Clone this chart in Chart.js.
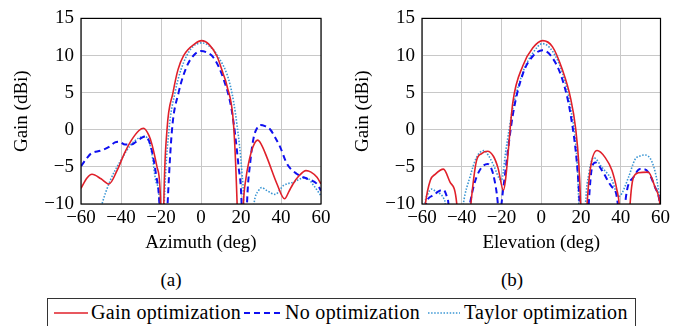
<!DOCTYPE html>
<html>
<head>
<meta charset="utf-8">
<script src="https://cdn.jsdelivr.net/npm/chart.js@4.4.1/dist/chart.umd.min.js"></script>
<style>
  html, body { margin: 0; padding: 0; background: #fff; }
  body { width: 673px; height: 326px; position: relative; overflow: hidden; font-family: 'Liberation Serif', 'Times New Roman', serif; }
  #c1 { position: absolute; left: 0; top: 0; }
  #c2 { position: absolute; left: 336px; top: 0; }
  .cap { position: absolute; top: 269px; font-size: 19px; width: 60px; text-align: center; }
  #legend { position: absolute; left: 47px; top: 298px; width: 589px; height: 40px; border: 1px solid #333; box-sizing: border-box; }
  .lt { position: absolute; top: 2px; font-size: 20px; letter-spacing: 0.3px; white-space: nowrap; }
  .ls { position: absolute; top: 10px; }
</style>
</head>
<body>
<canvas id="c1" width="336" height="260"></canvas>
<canvas id="c2" width="337" height="260"></canvas>
<div class="cap" style="left:141px">(a)</div>
<div class="cap" style="left:482px">(b)</div>
<div id="legend">
  <svg class="ls" style="left:6px" width="34" height="8"><line x1="0" y1="4" x2="34" y2="4" stroke="#e0202a" stroke-width="1.6"/></svg>
  <div class="lt" style="left:43px">Gain optimization</div>
  <svg class="ls" style="left:196px" width="38" height="8"><line x1="0" y1="4" x2="38" y2="4" stroke="#1010f0" stroke-width="2" stroke-dasharray="6 4"/></svg>
  <div class="lt" style="left:237px">No optimization</div>
  <svg class="ls" style="left:380px" width="32" height="8"><line x1="0" y1="4" x2="32" y2="4" stroke="#3a96d4" stroke-width="1.6" stroke-dasharray="1.5 1.6"/></svg>
  <div class="lt" style="left:416px">Taylor optimization</div>
</div>
<script>
// Ejes
const xTicks = [-60, -40, -20, 0, 20, 40, 60];
const yTicks = [-10, -5, 0, 5, 10, 15];

// (a) Azimut
const azGainX = [-60, -57, -54.5, -50, -46, -42, -38, -35, -31, -28.7, -26, -24.5, -22, -20.3, -19.3, -18.6, -17, -14, -11.5, -8.7, -3, 0.3, 4, 8, 11, 13, 16.3, 18, 19.5, 21.2, 22.5, 23.8, 26, 28.3, 30, 33, 38, 41.8, 44, 46, 49, 52.5, 55, 58, 60];
const azGainY = [-7.9, -6.5, -6.0, -6.6, -7.3, -5.5, -3.0, -1.5, -0.1, 0.2, -0.8, -2.0, -5, -9, -25, -10, 0, 5, 8.1, 10, 11.6, 12.0, 11.5, 9.9, 7.6, 5.9, 0.6, -9.5, -25, -10, -6.5, -4.5, -2.3, -1.4, -1.9, -3.75, -7.3, -9.3, -8.3, -7.3, -6.2, -5.5, -5.7, -6.4, -7.3];
const azNoX = [-60, -57, -55, -50, -46, -43, -41, -38, -35, -31, -28, -26, -24.5, -22.5, -20.8, -19, -16.7, -14.5, -11.2, -7, -3, 0, 3, 6.3, 11.3, 15.5, 18.8, 20.3, 21.5, 23, 24.7, 26.3, 28, 29.7, 32, 34.7, 37, 39.7, 43, 48, 53, 58, 60];
const azNoY = [-4.9, -3.8, -3.2, -2.8, -2.3, -1.7, -1.6, -2.0, -2.0, -1.3, -0.9, -1.5, -2.9, -6, -10, -25, -10, 0, 5, 8.6, 10.2, 10.6, 10.4, 9.7, 6.8, 2.4, -5, -10, -25, -10, -4.2, -1.1, 0.2, 0.65, 0.5, 0, -1, -2.4, -4.6, -5.95, -6.6, -7.3, -8.2];
const azTaylorX = [-53, -49.5, -45.3, -40.3, -35, -31, -28, -26, -24.5, -22.5, -20.7, -19.8, -18.4, -16, -13, -10, -5.3, 0.5, 4, 8, 14.7, 18, 20.5, 21.3, 22, 26.5, 28.8, 30.3, 33, 37, 41.3, 46.3, 51.3, 53, 56.3, 60];
const azTaylorY = [-14, -10, -6.8, -4.2, -2.0, -1.1, -0.9, -1.6, -3.3, -7, -10, -25, -10, 0, 5, 8.1, 10.8, 11.7, 11.3, 10.1, 5.9, 0.65, -5.95, -10, -25, -10, -8.2, -7.8, -8.2, -8.7, -7.5, -7.05, -6.5, -6.5, -7.5, -8.9];

// (b) Elevación
const elGainX = [-59, -58.3, -55.8, -53.4, -49.2, -45.9, -42.5, -40, -35.4, -32.6, -30, -27, -24, -21.8, -19, -18, -14.3, -9.3, -4.3, 0.7, 5.6, 10.6, 14.8, 17.3, 18.9, 19.8, 21, 23.1, 24.8, 28.1, 32.2, 35.6, 38.1, 39.2, 42, 44.7, 46.4, 48.9, 53.8, 57.2, 59.7, 60];
const elGainY = [-12, -10, -6.8, -6.0, -5.3, -7.05, -10, -25, -10, -4.2, -3.2, -2.9, -3.6, -5.1, -8.15, -6.8, 3.7, 8.6, 11.0, 12.0, 11.2, 8.1, 4.2, 0.2, -4.6, -10, -25, -10, -5.1, -2.8, -3.75, -5.5, -8.15, -10, -25, -10, -6.4, -5.8, -5.7, -7.7, -10, -11];
const elNoX = [-59, -58, -54.2, -51, -49.2, -47.5, -46.7, -44, -35.9, -32.6, -27, -25, -23.5, -22, -21, -20, -18.4, -14.3, -9.3, -4.3, 0.7, 5.6, 10.6, 14.8, 18.1, 19.3, 21.5, 23.9, 25.6, 27.3, 30.6, 35.6, 38.5, 40, 42.2, 46.4, 49.7, 51.5, 53.8, 57.2, 59.7, 60];
const elNoY = [-12, -10, -8.8, -8.2, -8.1, -9, -10, -25, -10, -6.4, -4.6, -5.3, -6.8, -9.5, -13, -10, -6.4, 2.0, 7.5, 9.9, 10.7, 9.7, 6.8, 2.0, -5.0, -10, -25, -10, -5, -4.4, -5.5, -7.7, -10, -25, -10, -6.4, -5.3, -5.3, -5.7, -7.7, -10, -11];
const elTaylorX = [-59, -58.5, -57, -55.2, -53, -51, -49, -48.3, -45, -39.2, -35.9, -32.6, -28.8, -26.5, -24.3, -20.1, -17.6, -14.3, -9.3, -4.3, 0.7, 5.6, 10.6, 14.8, 18.1, 18.9, 20.5, 22.3, 23.9, 26.4, 30.6, 35.6, 38.9, 40.5, 43.9, 47.2, 50, 52.2, 55.5, 58, 59.7, 60];
const elTaylorY = [-12, -10, -8.6, -8.0, -8.3, -8.6, -9.3, -10, -25, -10, -6.4, -3.75, -2.8, -3.5, -4.6, -6.8, -2.4, 2.9, 7.7, 10.3, 11.6, 10.6, 7.7, 2.9, -4.6, -10, -25, -10, -6.0, -3.75, -5.1, -6.8, -9, -8.6, -6.4, -4.0, -3.5, -3.4, -4.2, -6.5, -9.5, -10];

const serie = (xs, ys) => xs.map((x, i) => ({ x: x, y: ys[i] }));
const menos = v => String(v).replace('-', '\u2212');

// Marco negro alrededor del área de trazado
const marco = {
  id: 'marco',
  afterDatasetsDraw(chart) {
    const a = chart.chartArea;
    const ctx = chart.ctx;
    ctx.save();
    ctx.strokeStyle = '#000';
    ctx.lineWidth = 1.2;
    ctx.strokeRect(a.left, a.top, a.right - a.left, a.bottom - a.top);
    ctx.restore();
  }
};

function crearGrafico(id, padLeft, padRight, xTitle, gX, gY, nX, nY, tX, tY) {
  const fuente = { family: "'Liberation Serif', 'Times New Roman', serif", size: 19 };
  return new Chart(document.getElementById(id).getContext('2d'), {
    type: 'line',
    data: {
      datasets: [
        { label: 'Gain optimization', data: serie(gX, gY), borderColor: '#e0202a', borderWidth: 1.6 },
        { label: 'No optimization', data: serie(nX, nY), borderColor: '#1010f0', borderWidth: 2, borderDash: [6, 4] },
        { label: 'Taylor optimization', data: serie(tX, tY), borderColor: '#3a96d4', borderWidth: 1.6, borderDash: [1.5, 1.6] }
      ]
    },
    options: {
      responsive: false,
      animation: false,
      elements: { point: { radius: 0 }, line: { cubicInterpolationMode: 'monotone', fill: false } },
      layout: { padding: { left: padLeft, right: padRight, top: 15, bottom: 0 } },
      plugins: { legend: { display: false }, tooltip: { enabled: false } },
      scales: {
        x: {
          type: 'linear', min: -60, max: 60,
          afterBuildTicks: s => { s.ticks = xTicks.map(v => ({ value: v })); },
          afterFit: s => { s.height = 56; },
          grid: { color: '#c8c8c8', drawTicks: false },
          border: { display: false },
          ticks: { color: '#000', font: fuente, padding: 3, maxRotation: 0, callback: menos },
          title: { display: true, text: xTitle, color: '#000', font: fuente, padding: { top: 0, bottom: 6 } }
        },
        y: {
          type: 'linear', min: -10, max: 15,
          afterBuildTicks: s => { s.ticks = yTicks.map(v => ({ value: v })); },
          afterFit: s => { s.width = 81; },
          grid: { color: '#c8c8c8', drawTicks: false },
          border: { display: false },
          ticks: { color: '#000', font: fuente, padding: 7, callback: menos },
          title: { display: true, text: 'Gain (dBi)', color: '#000', font: fuente, padding: { top: 11, bottom: 0 } }
        }
      }
    },
    plugins: [marco]
  });
}

crearGrafico('c1', 0, 15, 'Azimuth (deg)', azGainX, azGainY, azNoX, azNoY, azTaylorX, azTaylorY);
crearGrafico('c2', 5, 11, 'Elevation (deg)', elGainX, elGainY, elNoX, elNoY, elTaylorX, elTaylorY);
</script>
</body>
</html>
